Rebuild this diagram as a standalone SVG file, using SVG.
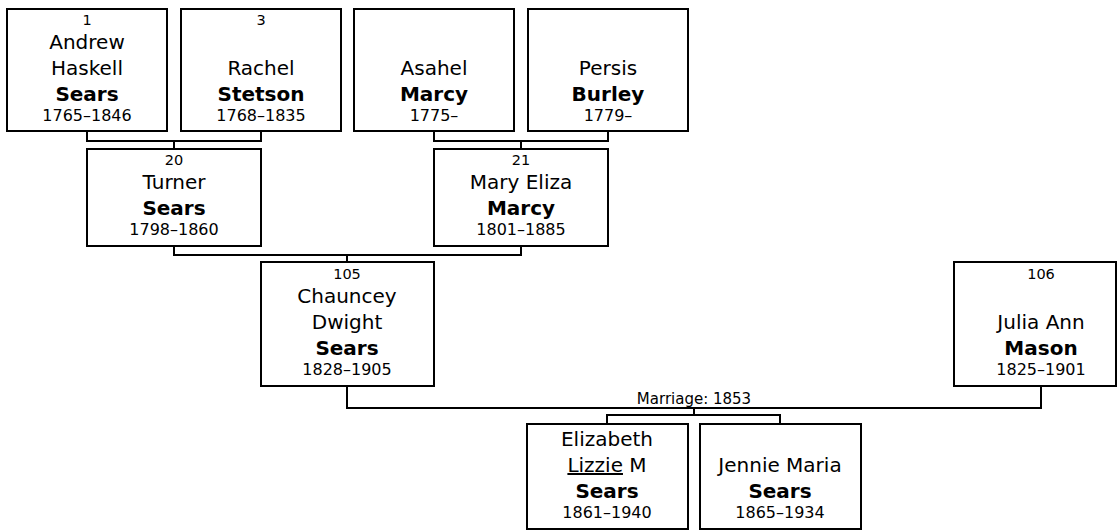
<svg xmlns="http://www.w3.org/2000/svg" width="1118" height="531" viewBox="0 0 1118 531">
<style>
text{font-family:"DejaVu Sans",Verdana,sans-serif;fill:#000;text-anchor:middle}
.box{fill:#fff;stroke:#000;stroke-width:2}
.num{font-size:14.5px}
.nm{font-size:20px}
.sn{font-size:20px;font-weight:bold}
.dt{font-size:16px}
.lbl{font-size:15px}
.con{fill:none;stroke:#000;stroke-width:2}
</style>
<rect width="1118" height="531" fill="#fff"/>
<g id="connectors">
<path class="con" d="M87 131V141H261V131M174 141V149"/>
<path class="con" d="M434 131V141H608V131M521 141V149"/>
<path class="con" d="M174 246V255H521V246M347 255V262"/>
<path class="con" d="M347 386V408H1041V386"/>
<path class="con" d="M694 408V415M607 424V415H780V424"/>
<text class="lbl" x="694" y="404">Marriage: 1853</text>
</g>
<g id="p1">
<rect class="box" x="7" y="9" width="160" height="122"/>
<text class="num" x="87" y="25">1</text>
<text class="nm" x="87" y="49">Andrew</text>
<text class="nm" x="87" y="75">Haskell</text>
<text class="sn" x="87" y="101">Sears</text>
<text class="dt" x="87" y="121">1765–1846</text>
</g>
<g id="p3">
<rect class="box" x="181" y="9" width="160" height="122"/>
<text class="num" x="261" y="25">3</text>
<text class="nm" x="261" y="75">Rachel</text>
<text class="sn" x="261" y="101">Stetson</text>
<text class="dt" x="261" y="121">1768–1835</text>
</g>
<g id="asahel">
<rect class="box" x="354" y="9" width="160" height="122"/>
<text class="nm" x="434" y="75">Asahel</text>
<text class="sn" x="434" y="101">Marcy</text>
<text class="dt" x="434" y="121">1775–</text>
</g>
<g id="persis">
<rect class="box" x="528" y="9" width="160" height="122"/>
<text class="nm" x="608" y="75">Persis</text>
<text class="sn" x="608" y="101">Burley</text>
<text class="dt" x="608" y="121">1779–</text>
</g>
<g id="p20">
<rect class="box" x="87" y="149" width="174" height="97"/>
<text class="num" x="174" y="165">20</text>
<text class="nm" x="174" y="189">Turner</text>
<text class="sn" x="174" y="215">Sears</text>
<text class="dt" x="174" y="235">1798–1860</text>
</g>
<g id="p21">
<rect class="box" x="434" y="149" width="174" height="97"/>
<text class="num" x="521" y="165">21</text>
<text class="nm" x="521" y="189">Mary Eliza</text>
<text class="sn" x="521" y="215">Marcy</text>
<text class="dt" x="521" y="235">1801–1885</text>
</g>
<g id="p105">
<rect class="box" x="261" y="262" width="173" height="124"/>
<text class="num" x="347" y="279">105</text>
<text class="nm" x="347" y="303">Chauncey</text>
<text class="nm" x="347" y="329">Dwight</text>
<text class="sn" x="347" y="355">Sears</text>
<text class="dt" x="347" y="375">1828–1905</text>
</g>
<g id="p106">
<rect class="box" x="954" y="262" width="162" height="124"/>
<text class="num" x="1041" y="279">106</text>
<text class="nm" x="1041" y="329">Julia Ann</text>
<text class="sn" x="1041" y="355">Mason</text>
<text class="dt" x="1041" y="375">1825–1901</text>
</g>
<g id="elizabeth">
<rect class="box" x="527" y="424" width="161" height="105"/>
<text class="nm" x="607" y="446">Elizabeth</text>
<text class="nm" x="607" y="472"><tspan text-decoration="underline">Lizzie</tspan> M</text>
<text class="sn" x="607" y="498">Sears</text>
<text class="dt" x="607" y="518">1861–1940</text>
</g>
<g id="jennie">
<rect class="box" x="700" y="424" width="161" height="105"/>
<text class="nm" x="780" y="472">Jennie Maria</text>
<text class="sn" x="780" y="498">Sears</text>
<text class="dt" x="780" y="518">1865–1934</text>
</g>
</svg>
